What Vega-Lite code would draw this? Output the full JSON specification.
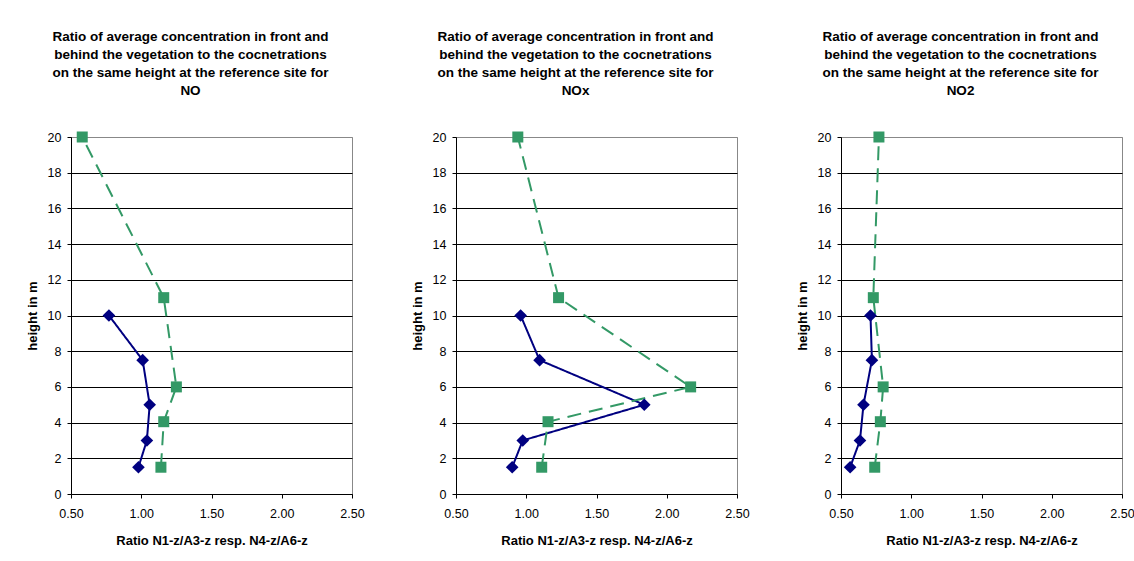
{
  "$schema": "https://vega.github.io/schema/vega-lite/v6.json",
  "background": "white",
  "padding": {"left": 25, "top": 29, "right": 0, "bottom": 0},
  "spacing": 45,
  "datasets": {
    "d": [
      {"panel": "NO", "series": "A", "ratio": 0.77, "height": 10},
      {"panel": "NO", "series": "A", "ratio": 1.01, "height": 7.5},
      {"panel": "NO", "series": "A", "ratio": 1.06, "height": 5},
      {"panel": "NO", "series": "A", "ratio": 1.04, "height": 3},
      {"panel": "NO", "series": "A", "ratio": 0.98, "height": 1.5},
      {"panel": "NO", "series": "B", "ratio": 0.58, "height": 20},
      {"panel": "NO", "series": "B", "ratio": 1.16, "height": 11},
      {"panel": "NO", "series": "B", "ratio": 1.25, "height": 6},
      {"panel": "NO", "series": "B", "ratio": 1.16, "height": 4.05},
      {"panel": "NO", "series": "B", "ratio": 1.14, "height": 1.5},
      {"panel": "NOx", "series": "A", "ratio": 0.96, "height": 10},
      {"panel": "NOx", "series": "A", "ratio": 1.095, "height": 7.5},
      {"panel": "NOx", "series": "A", "ratio": 1.84, "height": 5},
      {"panel": "NOx", "series": "A", "ratio": 0.975, "height": 3},
      {"panel": "NOx", "series": "A", "ratio": 0.9, "height": 1.5},
      {"panel": "NOx", "series": "B", "ratio": 0.94, "height": 20},
      {"panel": "NOx", "series": "B", "ratio": 1.23, "height": 11},
      {"panel": "NOx", "series": "B", "ratio": 2.17, "height": 6},
      {"panel": "NOx", "series": "B", "ratio": 1.155, "height": 4.05},
      {"panel": "NOx", "series": "B", "ratio": 1.11, "height": 1.5},
      {"panel": "NO2", "series": "A", "ratio": 0.71, "height": 10},
      {"panel": "NO2", "series": "A", "ratio": 0.72, "height": 7.5},
      {"panel": "NO2", "series": "A", "ratio": 0.66, "height": 5},
      {"panel": "NO2", "series": "A", "ratio": 0.635, "height": 3},
      {"panel": "NO2", "series": "A", "ratio": 0.565, "height": 1.5},
      {"panel": "NO2", "series": "B", "ratio": 0.77, "height": 20},
      {"panel": "NO2", "series": "B", "ratio": 0.73, "height": 11},
      {"panel": "NO2", "series": "B", "ratio": 0.8, "height": 6},
      {"panel": "NO2", "series": "B", "ratio": 0.78, "height": 4.05},
      {"panel": "NO2", "series": "B", "ratio": 0.74, "height": 1.5}
    ]
  },
  "hconcat": [
    {
      "width": 281, "height": 357,
      "title": {"text": ["Ratio of average concentration in front and", "behind the vegetation to the cocnetrations", "on the same height at the reference site for", "NO"]},
      "data": {"name": "d"},
      "transform": [{"filter": "datum.panel == 'NO'"}],
      "encoding": {
        "x": {"field": "ratio", "type": "quantitative", "scale": {"domain": [0.5, 2.5]}, "axis": {"values": [0.5, 1, 1.5, 2, 2.5], "format": ".2f", "grid": false}, "title": "Ratio N1-z/A3-z resp. N4-z/A6-z"},
        "y": {"field": "height", "type": "quantitative", "scale": {"domain": [0, 20]}, "axis": {"values": [0, 2, 4, 6, 8, 10, 12, 14, 16, 18, 20], "format": "d"}, "title": "height in m"},
        "color": {"field": "series", "type": "nominal", "scale": {"domain": ["A", "B"], "range": ["#000080", "#339966"]}, "legend": null}
      },
      "layer": [
        {"mark": {"type": "line", "strokeWidth": 2},
         "encoding": {
           "strokeDash": {"field": "series", "type": "nominal", "scale": {"domain": ["A", "B"], "range": [[1, 0], [14, 8]]}, "legend": null},
           "order": {"field": "height", "type": "quantitative"}
         }},
        {"mark": {"type": "point", "filled": true, "opacity": 1, "strokeWidth": 0},
         "encoding": {
           "shape": {"field": "series", "type": "nominal", "scale": {"domain": ["A", "B"], "range": ["diamond", "square"]}, "legend": null},
           "size": {"field": "series", "type": "nominal", "scale": {"domain": ["A", "B"], "range": [160, 121]}, "legend": null}
         }}
      ]
    },
    {
      "width": 281, "height": 357,
      "title": {"text": ["Ratio of average concentration in front and", "behind the vegetation to the cocnetrations", "on the same height at the reference site for", "NOx"]},
      "data": {"name": "d"},
      "transform": [{"filter": "datum.panel == 'NOx'"}],
      "encoding": {
        "x": {"field": "ratio", "type": "quantitative", "scale": {"domain": [0.5, 2.5]}, "axis": {"values": [0.5, 1, 1.5, 2, 2.5], "format": ".2f", "grid": false}, "title": "Ratio N1-z/A3-z resp. N4-z/A6-z"},
        "y": {"field": "height", "type": "quantitative", "scale": {"domain": [0, 20]}, "axis": {"values": [0, 2, 4, 6, 8, 10, 12, 14, 16, 18, 20], "format": "d"}, "title": "height in m"},
        "color": {"field": "series", "type": "nominal", "scale": {"domain": ["A", "B"], "range": ["#000080", "#339966"]}, "legend": null}
      },
      "layer": [
        {"mark": {"type": "line", "strokeWidth": 2},
         "encoding": {
           "strokeDash": {"field": "series", "type": "nominal", "scale": {"domain": ["A", "B"], "range": [[1, 0], [14, 8]]}, "legend": null},
           "order": {"field": "height", "type": "quantitative"}
         }},
        {"mark": {"type": "point", "filled": true, "opacity": 1, "strokeWidth": 0},
         "encoding": {
           "shape": {"field": "series", "type": "nominal", "scale": {"domain": ["A", "B"], "range": ["diamond", "square"]}, "legend": null},
           "size": {"field": "series", "type": "nominal", "scale": {"domain": ["A", "B"], "range": [160, 121]}, "legend": null}
         }}
      ]
    },
    {
      "width": 281, "height": 357,
      "title": {"text": ["Ratio of average concentration in front and", "behind the vegetation to the cocnetrations", "on the same height at the reference site for", "NO2"]},
      "data": {"name": "d"},
      "transform": [{"filter": "datum.panel == 'NO2'"}],
      "encoding": {
        "x": {"field": "ratio", "type": "quantitative", "scale": {"domain": [0.5, 2.5]}, "axis": {"values": [0.5, 1, 1.5, 2, 2.5], "format": ".2f", "grid": false}, "title": "Ratio N1-z/A3-z resp. N4-z/A6-z"},
        "y": {"field": "height", "type": "quantitative", "scale": {"domain": [0, 20]}, "axis": {"values": [0, 2, 4, 6, 8, 10, 12, 14, 16, 18, 20], "format": "d"}, "title": "height in m"},
        "color": {"field": "series", "type": "nominal", "scale": {"domain": ["A", "B"], "range": ["#000080", "#339966"]}, "legend": null}
      },
      "layer": [
        {"mark": {"type": "line", "strokeWidth": 2},
         "encoding": {
           "strokeDash": {"field": "series", "type": "nominal", "scale": {"domain": ["A", "B"], "range": [[1, 0], [14, 8]]}, "legend": null},
           "order": {"field": "height", "type": "quantitative"}
         }},
        {"mark": {"type": "point", "filled": true, "opacity": 1, "strokeWidth": 0},
         "encoding": {
           "shape": {"field": "series", "type": "nominal", "scale": {"domain": ["A", "B"], "range": ["diamond", "square"]}, "legend": null},
           "size": {"field": "series", "type": "nominal", "scale": {"domain": ["A", "B"], "range": [160, 121]}, "legend": null}
         }}
      ]
    }
  ],
  "config": {
    "view": {"stroke": "#888888", "strokeWidth": 1},
    "title": {"font": "Liberation Sans", "fontSize": 13.5, "fontWeight": "bold", "lineHeight": 18, "anchor": "middle", "dx": -21, "offset": 34, "color": "black"},
    "axis": {
      "domainColor": "black", "tickColor": "black", "tickSize": 4,
      "labelFont": "Liberation Sans", "labelFontSize": 12.5, "labelColor": "black", "labelPadding": 6,
      "titleFont": "Liberation Sans", "titleFontSize": 13, "titleFontWeight": "bold", "titleColor": "black",
      "gridColor": {"condition": {"test": "datum.value == 20", "value": "#888888"}, "value": "black"}, "gridOpacity": 1
    },
    "axisX": {"titlePadding": 15, "labelPadding": 9, "labelFlush": false},
    "axisY": {"titlePadding": 8}
  }
}
